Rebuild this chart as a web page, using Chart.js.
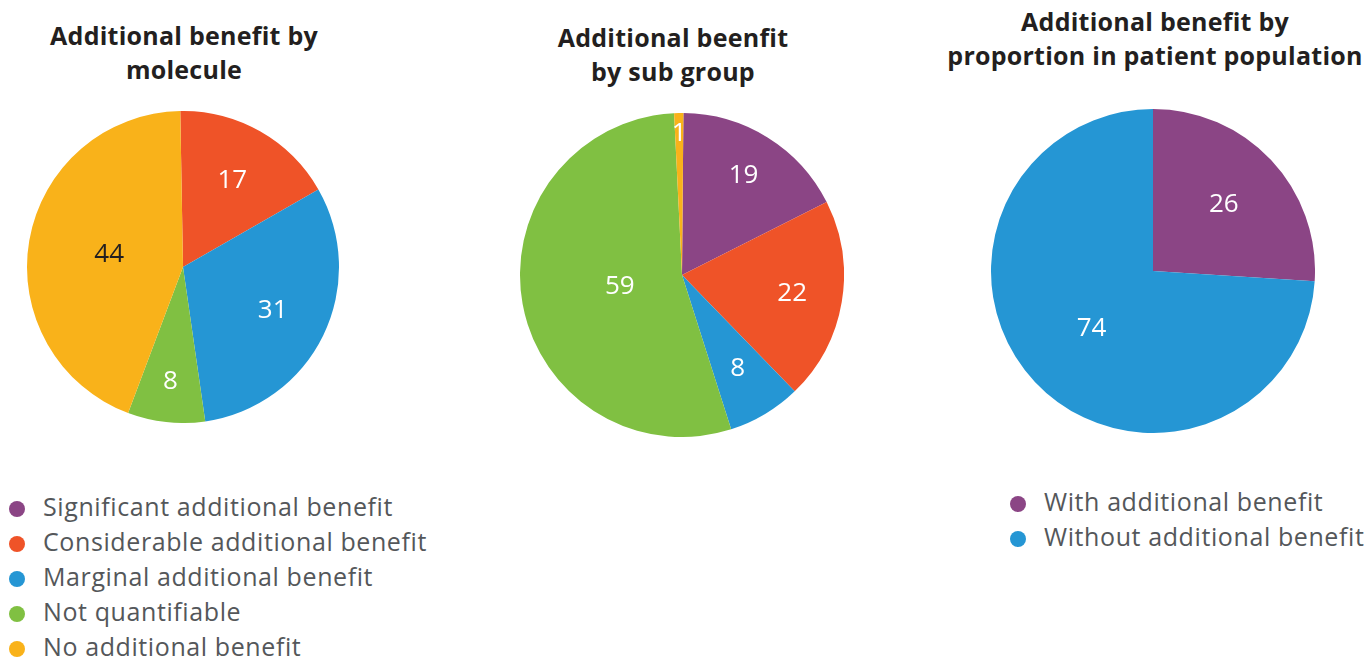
<!DOCTYPE html>
<html>
<head>
<meta charset="utf-8">
<script src="https://cdn.jsdelivr.net/npm/chart.js@4"></script>
<style>
  body { margin: 0; width: 1366px; height: 657px; background: #fff; position: relative; overflow: hidden; font-family: "Open Sans", sans-serif; }
  .title { position: absolute; width: 500px; text-align: center; font-weight: bold; font-size: 25px; letter-spacing: 0.25px; line-height: 34px; color: #231f20; }
  .pie { position: absolute; }
  .legend { position: absolute; font-size: 25px; letter-spacing: 0.6px; color: #54575a; line-height: 35px; }
  .legend div { white-space: nowrap; }
  .dot { display: inline-block; width: 16px; height: 16px; border-radius: 50%; margin-right: 18px; vertical-align: -1px; }
</style>
</head>
<body>
<div class="title" style="left:-66px; top:18px">Additional benefit by<br>molecule</div>
<div class="title" style="left:423px; top:20px">Additional beenfit<br>by sub group</div>
<div class="title" style="left:905px; top:4px">Additional benefit by<br>proportion in patient population</div>

<div class="pie" style="left:27px; top:111px; width:312px; height:312px"><canvas id="pie1"></canvas></div>
<div class="pie" style="left:520px; top:113px; width:324px; height:324px"><canvas id="pie2"></canvas></div>
<div class="pie" style="left:991px; top:109px; width:324px; height:324px"><canvas id="pie3"></canvas></div>

<div class="legend" id="legend1" style="left:9px; top:489px"></div>
<div class="legend" id="legend3" style="left:1010px; top:484px"></div>

<script>
// categories
const benefitLabels = ["Significant additional benefit", "Considerable additional benefit", "Marginal additional benefit", "Not quantifiable", "No additional benefit"]
const benefitColors = ["#8b4585", "#ef5328", "#2596d4", "#80c042", "#f9b21a"]
const populationLabels = ["With additional benefit", "Without additional benefit"]
const populationColors = ["#8b4585", "#2596d4"]

// values
const byMolecule = [0, 17, 31, 8, 44]
const bySubGroup = [19, 22, 8, 59, 1]
const byPopulation = [26, 74]

// draws the numbers inside the slices
const sliceLabels = {
    id: 'sliceLabels',
    afterDatasetsDraw(chart, args, opts) {
        const ctx = chart.ctx
        const meta = chart.getDatasetMeta(0)
        const values = chart.data.datasets[0].data
        ctx.save()
        ctx.font = '26px "Open Sans", sans-serif'
        ctx.textAlign = 'center'
        ctx.textBaseline = 'middle'
        meta.data.forEach((arc, i) => {
            if (!values[i]) return
            const mid = (arc.startAngle + arc.endAngle) / 2
            const r = arc.outerRadius * opts.radius[i]
            ctx.fillStyle = (opts.dark || [])[i] ? '#231f20' : '#fff'
            ctx.fillText(values[i], arc.x + Math.cos(mid) * r, arc.y + Math.sin(mid) * r)
        })
        ctx.restore()
    }
}

function makePie(id, labels, values, colors, rotation, radius, dark) {
    return new Chart(document.getElementById(id), {
        type: 'pie',
        data: {
            labels: labels,
            datasets: [{ data: values, backgroundColor: colors, borderWidth: 0 }]
        },
        options: {
            responsive: true,
            maintainAspectRatio: false,
            animation: false,
            rotation: rotation,
            layout: { padding: 0 },
            plugins: {
                legend: { display: false },
                tooltip: { enabled: false },
                sliceLabels: { radius: radius, dark: dark }
            }
        },
        plugins: [sliceLabels]
    })
}

makePie('pie1', benefitLabels, byMolecule, benefitColors, -1, [0.6, 0.64, 0.64, 0.74, 0.48], [0, 0, 0, 0, 1])
makePie('pie2', benefitLabels, bySubGroup, benefitColors, 0.5, [0.72, 0.69, 0.67, 0.39, 0.87], [])
makePie('pie3', populationLabels, byPopulation, populationColors, 0, [0.6, 0.52], [])

function buildLegend(id, labels, colors) {
    const el = document.getElementById(id)
    labels.forEach((label, i) => {
        const row = document.createElement('div')
        row.innerHTML = '<span class="dot" style="background:' + colors[i] + '"></span>' + label
        el.appendChild(row)
    })
}
buildLegend('legend1', benefitLabels, benefitColors)
buildLegend('legend3', populationLabels, populationColors)
</script>
</body>
</html>
